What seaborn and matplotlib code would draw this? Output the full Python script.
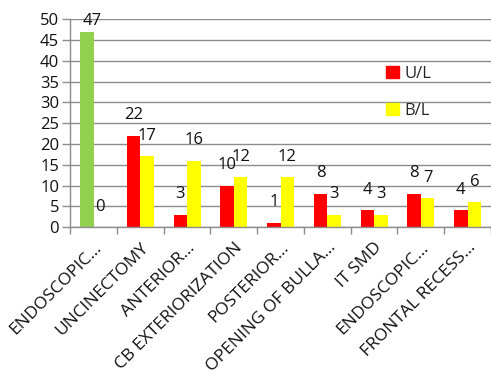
import matplotlib
matplotlib.use("Agg")
from matplotlib import pyplot as plt
import pandas as pd
import seaborn as sns

procedures = ['ENDOSCOPIC…', 'UNCINECTOMY', 'ANTERIOR…', 'CB EXTERIORIZATION',
              'POSTERIOR…', 'OPENING OF BULLA…', 'IT SMD', 'ENDOSCOPIC…',
              'FRONTAL RECESS…']
ul_values = [47, 22, 3, 10, 1, 8, 4, 8, 4]
bl_values = [0, 17, 16, 12, 12, 3, 3, 7, 6]
series = ['U/L', 'B/L']
y_ticks = [0, 5, 10, 15, 20, 25, 30, 35, 40, 45, 50]

# duplicate names (two ENDOSCOPIC...) -> use position as key, names as tick labels
rows = []
for i, name in enumerate(procedures):
    rows.append({'pos': i, 'group': 'U/L', 'count': ul_values[i]})
    rows.append({'pos': i, 'group': 'B/L', 'count': bl_values[i]})
df = pd.DataFrame(rows)

sns.set_style('white')
plt.rcParams['font.family'] = ['Open Sans', 'DejaVu Sans']

fig = plt.figure(figsize=(4.91, 3.83), dpi=100)
ax = fig.add_axes([0.143, 0.407, 0.857, 0.543])

sns.barplot(data=df, x='pos', y='count', hue='group', hue_order=series,
            palette={'U/L': '#FF0000', 'B/L': '#FFFF00'}, width=0.58, saturation=1,
            dodge=True, ax=ax, legend=False, linewidth=0)

# first U/L bar is green in the original
ax.containers[0][0].set_facecolor('#92D050')

for k, cont in enumerate(ax.containers):
    texts = ax.bar_label(cont, padding=9, fontsize=12, color='#111111')
    if k == 0:
        # the 47 label is squeezed against the top of the plot
        texts[0].xyann = (4, 2)

ax.set_ylim(0, 50)
ax.set_yticks(y_ticks)
ax.set_xlim(-0.5, len(procedures) - 0.5)
ax.set_xticks(range(len(procedures)))
ax.set_xticklabels(procedures, rotation=45, ha='right', rotation_mode='anchor',
                   fontsize=12.5, color='#111111')
ax.set_xticks([i - 0.5 for i in range(len(procedures) + 1)], minor=True)
ax.tick_params(axis='x', which='major', length=0, pad=9)
ax.tick_params(axis='x', which='minor', length=5, width=1, color='#8c8c8c', direction='out', bottom=True)
ax.tick_params(axis='y', length=6, width=1, color='#8c8c8c', direction='out', left=True,
               labelsize=12, labelcolor='#111111', pad=2)
ax.yaxis.grid(True, color='#8c8c8c', linewidth=1)
ax.set_axisbelow(True)
ax.set(xlabel=None, ylabel=None)
for side in ['top', 'right']:
    ax.spines[side].set_visible(False)
for side in ['left', 'bottom']:
    ax.spines[side].set_color('#8c8c8c')
    ax.spines[side].set_linewidth(1)

handles = [plt.Rectangle((0, 0), 1, 1, color='#FF0000'),
           plt.Rectangle((0, 0), 1, 1, color='#FFFF00')]
fig.legend(handles, series, loc='upper left', bbox_to_anchor=(0.755, 0.868),
           frameon=False, fontsize=12, handlelength=0.8, handleheight=0.8,
           handletextpad=0.3, labelspacing=1.25)

fig.savefig('out.png', dpi=100)
